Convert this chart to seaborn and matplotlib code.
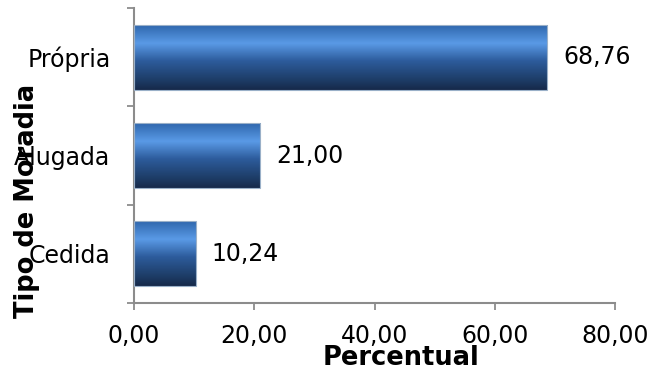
import numpy as np
import pandas as pd
import matplotlib
matplotlib.use("Agg")
import matplotlib.pyplot as plt
from matplotlib.colors import LinearSegmentedColormap
from matplotlib.ticker import FixedLocator, FuncFormatter
import seaborn as sns

categorias = ["Própria", "Alugada", "Cedida"]
percentuais = [68.76, 21.00, 10.24]
xticks = [0, 20, 40, 60, 80]

sns.set_style("white")
plt.rcParams["font.family"] = ["DejaVu Sans"]
plt.rcParams["text.color"] = "black"
plt.rcParams["xtick.color"] = "black"
plt.rcParams["ytick.color"] = "black"
plt.rcParams["axes.labelcolor"] = "black"

df = pd.DataFrame({"Tipo de Moradia": categorias, "Percentual": percentuais})

fig = plt.figure(figsize=(6.51, 3.71), dpi=100)
ax = fig.add_axes([134 / 651, 1 - 303 / 371, (615 - 134) / 651, (303 - 8) / 371])

sns.barplot(data=df, x="Percentual", y="Tipo de Moradia", orient="h",
            width=0.66, color="#3a7bd0", ax=ax)

# vertical gradient fill for each bar (light band near the top, dark at the bottom)
grad = LinearSegmentedColormap.from_list(
    "barra",
    [(0.0, "#2f67ad"), (0.28, "#5a9ae6"), (0.55, "#2d5c9c"), (0.85, "#1d3c66"), (1.0, "#16294a")])
vals = np.linspace(0, 1, 256).reshape(-1, 1)
for patch in ax.patches:
    x0, y0 = patch.get_x(), patch.get_y()
    w, h = patch.get_width(), patch.get_height()
    img = ax.imshow(vals, cmap=grad, aspect="auto", interpolation="bilinear",
                    extent=(x0, x0 + w, y0 + h, y0), zorder=2)
    img.set_clip_path(patch)
    patch.set_facecolor("none")
    patch.set_edgecolor("#9ab0c8")
    patch.set_linewidth(0.8)
    patch.set_zorder(3)

ax.set_xlim(0, 80)
ax.set_ylim(2.5, -0.5)

fmt = lambda v: f"{v:.2f}".replace(".", ",")
for i, v in enumerate(percentuais):
    ax.annotate(fmt(v), xy=(v, i), xytext=(11.5, 0), textcoords="offset points",
                va="center", ha="left", fontsize=17, color="black")

ax.xaxis.set_major_locator(FixedLocator(xticks))
ax.xaxis.set_major_formatter(FuncFormatter(lambda v, p: fmt(v)))
ax.yaxis.set_minor_locator(FixedLocator([-0.5, 0.5, 1.5, 2.5]))
ax.tick_params(axis="x", which="major", direction="out", length=5, width=1.3,
               color="#8c8c8c", labelcolor="black", labelsize=17, pad=10, bottom=True)
ax.tick_params(axis="y", which="major", length=0, labelsize=17, pad=17,
               labelcolor="black")
ax.tick_params(axis="y", which="minor", direction="out", length=5, width=1.3,
               color="#8c8c8c", left=True)

for s in ["top", "right"]:
    ax.spines[s].set_visible(False)
for s in ["left", "bottom"]:
    ax.spines[s].set_color("#8c8c8c")
    ax.spines[s].set_linewidth(1.5)

ax.set_xlabel("Percentual", fontsize=18.5, fontweight="bold")
ax.set_ylabel("Tipo de Moradia", fontsize=18.5, fontweight="bold")
ax.yaxis.set_label_coords(-0.195, 0.345)
ax.xaxis.set_label_coords(0.555, -0.142)

fig.savefig("out.png", dpi=100)
